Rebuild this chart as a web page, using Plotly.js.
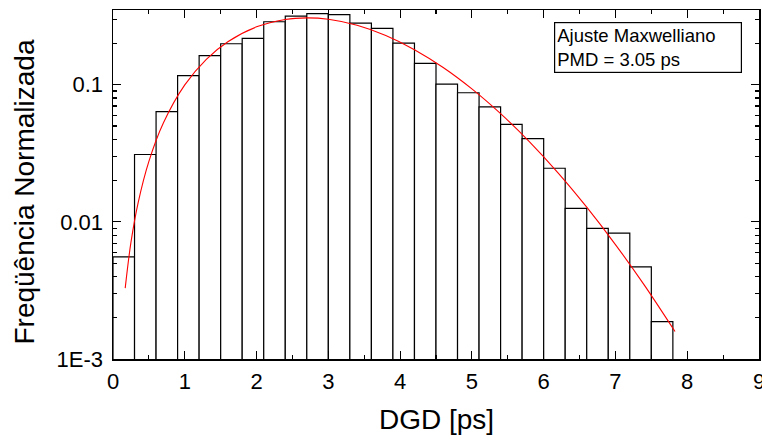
<!DOCTYPE html>
<html>
<head>
<meta charset="utf-8">
<script src="https://cdn.plot.ly/plotly-3.0.1.min.js"></script>
<style>html,body{margin:0;padding:0;background:#fff;}#chart{width:762px;height:440px;}</style>
</head>
<body>
<div id="chart"></div>
<script>
// Histogram bins (centres, ps) and normalised frequencies
var binCenters = [0.15,0.45,0.75,1.05,1.35,1.65,1.95,2.25,2.55,2.85,3.15,3.45,3.75,4.05,4.35,4.65,4.95,5.25,5.55,5.85,6.15,6.45,6.75,7.05,7.35,7.65];
var binFreq = [0.00555,0.0310,0.0636,0.1164,0.163,0.199,0.218,0.288,0.316,0.330,0.325,0.281,0.258,0.201,0.143,0.101,0.0874,0.069,0.0514,0.0404,0.0246,0.01253,0.00895,0.00828,0.0047,0.001875];
var binWidth = 0.3;

// Maxwellian fit curve
var fitX = [0.17,0.25,0.35,0.5,0.7,1.0,1.3,1.6,2.0,2.4,2.7,3.0,3.4,3.8,4.2,4.6,5.0,5.4,5.8,6.2,6.6,7.0,7.4,7.83];
var fitY = [0.00329,0.00708,0.01377,0.02762,0.05238,0.0997,0.1533,0.2061,0.2644,0.2992,0.3071,0.3001,0.2714,0.2286,0.1802,0.1335,0.0932,0.0615,0.03845,0.02277,0.01279,0.00683,0.00347,0.001585];

var yTickVals = [0.001,0.01,0.1];
var yTickText = ['1E-3','0.01','0.1'];
var yMinorVals = [0.002,0.003,0.004,0.005,0.006,0.007,0.008,0.009,0.02,0.03,0.04,0.05,0.06,0.07,0.08,0.09,0.2,0.3];

var font = 'Arial, "Liberation Sans", sans-serif';

var traces = [
  {type:'bar', x:binCenters, y:binFreq, width:binWidth,
   marker:{color:'#ffffff', line:{color:'#000000', width:1.2}},
   hoverinfo:'skip', showlegend:false},
  {type:'scatter', mode:'lines', x:fitX, y:fitY, line:{color:'#ff0000', width:1.1, shape:'spline'},
   showlegend:false}
];

var layout = {
  width:762, height:440,
  margin:{l:113, r:3, t:10, b:81},
  paper_bgcolor:'#fff', plot_bgcolor:'#fff',
  font:{family:font, color:'#000'},
  bargap:0,
  xaxis:{range:[0,9], dtick:1, tick0:0, ticks:'inside', ticklen:8, tickwidth:1.2, tickcolor:'#000',
    minor:{dtick:0.5, tick0:0, ticks:'inside', ticklen:4, tickwidth:1.2, tickcolor:'#000', showgrid:false},
    showline:true, linecolor:'#000', linewidth:1.5, mirror:'allticks', showgrid:false, zeroline:false,
    tickfont:{size:22, family:font}, ticklabelstandoff:2, ticklabeloverflow:'allow'},
  yaxis:{type:'log', range:[-3,-0.455], tickmode:'array', tickvals:yTickVals, ticktext:yTickText,
    ticks:'inside', ticklen:8, tickwidth:1.2, tickcolor:'#000',
    minor:{tickmode:'array', tickvals:yMinorVals, ticks:'inside', ticklen:4, tickwidth:1.2, tickcolor:'#000', showgrid:false},
    showline:true, linecolor:'#000', linewidth:1.5, mirror:'allticks', showgrid:false, zeroline:false,
    tickfont:{size:22, family:font}, ticklabelstandoff:4},
  annotations:[
    {xref:'paper', yref:'paper', x:0.6827, y:0.965, xanchor:'left', yanchor:'top',
    text:'Ajuste Maxwelliano<br>PMD = 3.05 ps', align:'left', showarrow:false,
    font:{size:18.5, family:font, color:'#000'}, bordercolor:'#000', borderwidth:1.2, borderpad:2,
    bgcolor:'#fff', width:182},
    {xref:'paper', yref:'paper', x:0.5, y:-0.172, xanchor:'center', yanchor:'middle',
     text:'DGD [ps]', showarrow:false, font:{size:28, family:font, color:'#000'}},
    {xref:'paper', yref:'paper', x:-0.1362, y:0.477, xanchor:'center', yanchor:'middle', textangle:-90,
     text:'Freqüência Normalizada', showarrow:false, font:{size:28, family:font, color:'#000'}}
  ]
};

Plotly.newPlot('chart', traces, layout, {displayModeBar:false, staticPlot:true});
</script>
</body>
</html>
